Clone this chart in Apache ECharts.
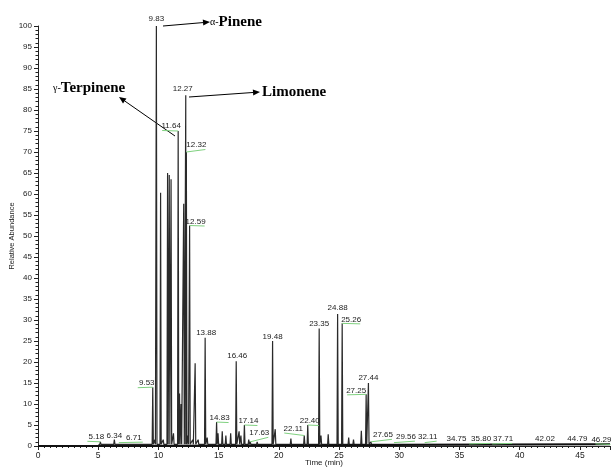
<!DOCTYPE html>
<html>
<head>
<meta charset="utf-8">
<script src="https://cdn.jsdelivr.net/npm/echarts@6/dist/echarts.min.js"></script>
<style>html,body{margin:0;padding:0;background:#fff}#c{width:611px;height:467px}</style>
</head>
<body>
<div id="c"></div>
<script>
// ---- data ----
const peakTimes = [5.18, 6.34, 6.71, 9.53, 9.70, 9.83, 10.18, 10.40, 10.76, 10.90, 11.05, 11.25, 11.64, 11.75, 11.88, 12.10, 12.27, 12.32, 12.45, 12.59, 12.85, 13.05, 13.30, 13.88, 14.05, 14.83, 14.95, 15.30, 15.60, 16.00, 16.46, 16.70, 16.85, 17.14, 17.50, 17.63, 18.20, 19.48, 19.70, 21.00, 22.11, 22.40, 23.35, 23.50, 24.10, 24.88, 25.26, 25.80, 26.20, 26.85, 27.25, 27.44, 27.65, 28.50, 29.56, 32.11, 34.75, 35.80, 37.71, 42.02, 44.79, 46.29];
const peakHeights = [1.0, 1.5, 0.8, 14, 1.5, 100, 60.3, 1.5, 65, 64.5, 63.5, 3, 75, 12.5, 10, 57.7, 83.5, 70, 2.5, 52.5, 1.5, 19.7, 1.5, 25.8, 2, 5.7, 3, 3.5, 2.5, 3, 20.2, 3.5, 2.5, 5, 1.5, 1, 1, 25, 4, 1.8, 2.5, 5, 28, 2.5, 2.8, 31.4, 29.2, 2, 1.5, 3.6, 12.3, 15, 1, 0.8, 0.8, 0.8, 0.6, 0.5, 0.5, 0.6, 0.5, 0.5];
const baselineTimes = [0, 4.95, 5.0, 47.5];
const baselineLevels = [0, 0, 0.4, 0.4];
const labeledTimes = [5.18, 6.34, 6.71, 9.53, 9.83, 11.64, 12.27, 12.32, 12.59, 13.88, 14.83, 16.46, 17.14, 17.63, 19.48, 22.11, 22.40, 23.35, 24.88, 25.26, 27.25, 27.44, 27.65, 29.56, 32.11, 34.75, 35.80, 37.71, 42.02, 44.79, 46.29];
const compoundNames = ['α-', 'Pinene', 'γ-', 'Terpinene', 'Limonene'];

// ---- layout only: pixel nudge of each retention-time label [dx, dy, leader line?] ----
const labelNudge = [[-4,-5,1],[0,-4,0],[15,-5,1],[-6,-4,1],[0,-7,0],[-7,-5,1],[-3,-7,0],[10,-7,1],[6,-4,1],[1,-5,0],[3,-4,1],[1,-5,0],[4,-4,1],[9,-9,1],[0,-4,0],[-11,-7,1],[2,-4,1],[0,-5,0],[0,-6,0],[9,-4,1],[-10,-4,1],[0,-5,0],[12,-7,1],[12,-6,1],[3,-6,1],[0,-5,0],[12,-5,1],[11,-5,1],[1,-5,0],[0,-5,0],[6,-4,1]];

const HW = 0.05;
const pts = [];
for (let i = 0; i < baselineTimes.length; i++) pts.push([baselineTimes[i], baselineLevels[i]]);
const base = 0.4;
peakTimes.forEach((t, i) => {
  pts.push([+(t - HW).toFixed(3), base]);
  pts.push([t, peakHeights[i]]);
  pts.push([+(t + HW).toFixed(3), base]);
});
pts.sort((a, b) => a[0] - b[0]);
const basePts = baselineTimes.map((t, i) => [t, baselineLevels[i]]);

const labelData = labeledTimes.map(t => [t, peakHeights[peakTimes.indexOf(t)]]);

const chart = echarts.init(document.getElementById('c'), null, {renderer: 'canvas'});
const FONT = 'Liberation Sans, Arial, sans-serif';

function arrow(x1, y1, x2, y2) {
  const ang = Math.atan2(y2 - y1, x2 - x1);
  const L = 7, W = 3;
  const bx = x2 - L * Math.cos(ang), by = y2 - L * Math.sin(ang);
  const nx = -Math.sin(ang) * W, ny = Math.cos(ang) * W;
  return [
    {type: 'line', shape: {x1, y1, x2: bx, y2: by}, style: {stroke: '#000', lineWidth: 1}},
    {type: 'polygon', shape: {points: [[x2, y2], [bx + nx, by + ny], [bx - nx, by - ny]]}, style: {fill: '#000'}}
  ];
}

const graphics = [].concat(
  arrow(163, 26, 210, 22),
  arrow(189, 97, 260, 92),
  arrow(175, 136, 119, 97),
  [
    {type: 'text', x: 210, y: 22, style: {text: '{a|' + compoundNames[0] + '}{b|' + compoundNames[1] + '}', verticalAlign: 'middle',
      rich: {a: {fontFamily: 'Liberation Serif', fontSize: 10, fill: '#000'}, b: {fontFamily: 'Liberation Serif', fontSize: 15, fontWeight: 'bold', fill: '#000'}}}},
    {type: 'text', x: 53, y: 88, style: {text: '{a|' + compoundNames[2] + '}{b|' + compoundNames[3] + '}', verticalAlign: 'middle',
      rich: {a: {fontFamily: 'Liberation Serif', fontSize: 10, fill: '#000'}, b: {fontFamily: 'Liberation Serif', fontSize: 15, fontWeight: 'bold', fill: '#000'}}}},
    {type: 'text', x: 262, y: 92, style: {text: compoundNames[4], verticalAlign: 'middle', fontFamily: 'Liberation Serif', fontSize: 15, fontWeight: 'bold', fill: '#000'}}
  ]
);

chart.setOption({
  animation: false,
  backgroundColor: '#fff',
  grid: {left: 38, top: 26, width: 572, height: 420, containLabel: false, outerBoundsMode: 'none'},
  xAxis: {
    type: 'value', min: 0, max: 47.5, interval: 5,
    name: 'Time (min)', nameLocation: 'middle', nameGap: 13, nameMoveOverlap: false,
    nameTextStyle: {fontFamily: FONT, fontSize: 8, color: '#222', verticalAlign: 'top'},
    axisLine: {show: true, lineStyle: {color: '#222', width: 1}},
    axisTick: {show: true, length: 4, lineStyle: {color: '#222'}},
    minorTick: {show: true, splitNumber: 10, length: 2, lineStyle: {color: '#222'}},
    axisLabel: {fontFamily: FONT, fontSize: 8.5, color: '#222', margin: 5, showMaxLabel: false},
    splitLine: {show: false}, minorSplitLine: {show: false}
  },
  yAxis: {
    type: 'value', min: 0, max: 100, interval: 5,
    name: 'Relative Abundance', nameLocation: 'middle', nameGap: 22, nameRotate: 90, nameMoveOverlap: false,
    nameTextStyle: {fontFamily: FONT, fontSize: 7.5, color: '#222'},
    axisLine: {show: true, lineStyle: {color: '#222', width: 1}},
    axisTick: {show: true, length: 4, lineStyle: {color: '#222'}},
    minorTick: {show: true, splitNumber: 5, length: 2.5, lineStyle: {color: '#222'}},
    axisLabel: {fontFamily: FONT, fontSize: 8, color: '#222', margin: 6},
    splitLine: {show: false}, minorSplitLine: {show: false}
  },
  series: [
    {
      type: 'line', data: pts, showSymbol: false, sampling: 'none',
      lineStyle: {color: '#2a2a2a', width: 1.2}, z: 2, silent: true
    },
    {
      type: 'line', data: basePts, showSymbol: false,
      lineStyle: {color: '#111', width: 2}, z: 3, silent: true
    },
    {
      type: 'custom', data: labelData, z: 5, silent: true, clip: false,
      renderItem: function (params, api) {
        const t = api.value(0), h = api.value(1);
        const p = api.coord([t, h]);
        const n = labelNudge[params.dataIndex];
        const tx = p[0] + n[0], ty = p[1] + n[1];
        const kids = [{
          type: 'text', x: tx, y: ty,
          style: {text: t.toFixed(2), align: 'center', verticalAlign: 'middle', fontFamily: FONT, fontSize: 8, fill: '#222'}
        }];
        if (n[2]) {
          const far = tx + Math.sign(n[0]) * 9;
          kids.unshift({type: 'line', shape: {x1: p[0], y1: p[1], x2: far, y2: ty + 4.5}, style: {stroke: '#7fd17f', lineWidth: 1}});
        }
        return {type: 'group', children: kids};
      }
    }
  ],
  graphic: graphics
});
</script>
</body>
</html>
